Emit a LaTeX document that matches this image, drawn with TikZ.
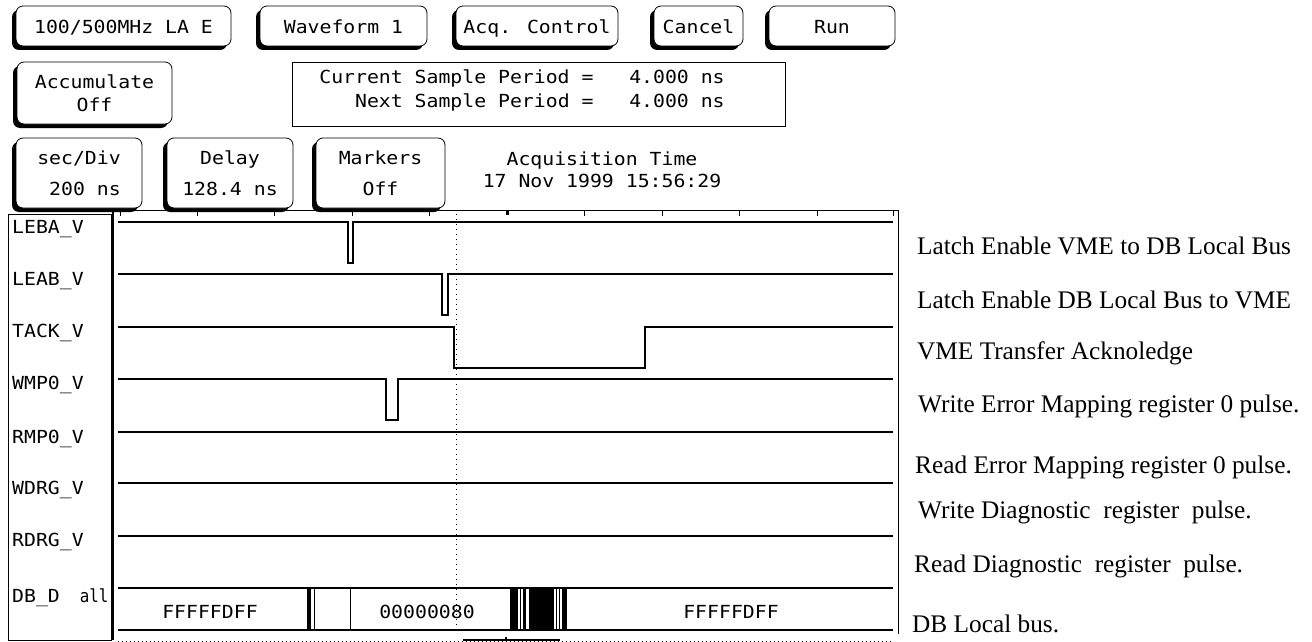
\documentclass[tikz,border=0pt]{standalone}
\usepackage{fontspec}
\setmainfont{Liberation Serif}
\newfontfamily\hpfont[FakeStretch=1.1]{DejaVu Sans Mono}
\usetikzlibrary{shadows}
\begin{document}
\begin{tikzpicture}[x=1pt,y=-1pt,
  hp/.style={font=\hpfont\fontsize{18}{22}\selectfont, inner sep=0pt},
  btn/.style={hp, draw, line width=0.8pt, rounded corners=7pt, fill=white, align=center,
    drop shadow={shadow xshift=-4pt, shadow yshift=-4pt, opacity=1, fill=black}},
  onebtn/.style={btn, text height=15pt, text depth=0pt, minimum height=40pt},
  frame/.style={draw, line width=0.8pt},
  note/.style={font=\fontsize{25.3}{30}\selectfont, anchor=base west, inner sep=0pt},
  trace/.style={line width=1.3pt},
  lowtrace/.style={line width=2pt},
  cursor/.style={dash pattern=on 1pt off 4pt, line width=1pt},
  sig/.style={hp, anchor=base west}
]
\useasboundingbox (0,0) rectangle (1312,642);
\fill[white] (0,0) rectangle (1312,642);

% top row buttons
\node[onebtn, minimum width=215pt] (la) at (123.5,26) {100/500MHz LA E};
\node[onebtn, minimum width=167pt] (wf) at (343.5,26) {Waveform 1};
\node[onebtn, minimum width=162pt] (acq) at (537,26) {Acq. Control};
\node[onebtn, minimum width=89pt] (cancel) at (698.5,26) {Cancel};
\node[onebtn, minimum width=126pt] (run) at (832,26) {Run};

% second row
\node[btn, minimum width=155pt, minimum height=62pt] (accum) at (94.5,93) {Accumulate\\[1pt]Off};
\node[frame, minimum width=493pt, minimum height=64pt, inner sep=0pt] (period) at (538.5,94) {};
\node[hp, align=right] (periodtxt) at (522,90) {Current Sample Period =\ \ \ 4.000 ns\\[2pt]Next Sample Period =\ \ \ 4.000 ns};

% third row
\node[btn, minimum width=126pt, minimum height=70pt] (secdiv) at (79,173) {sec/Div\\[9pt]\hspace*{12pt}200 ns};
\node[btn, minimum width=126pt, minimum height=70pt] (delay) at (230,173) {Delay\\[9pt]128.4 ns};
\node[btn, minimum width=129pt, minimum height=70pt] (markers) at (380.5,173) {Markers\\[9pt]Off};
\node[hp, align=center] (acqtime) at (602,170) {Acquisition Time\\17 Nov 1999 15:56:29};

% frames
\draw[line width=0.8pt] (8,214) rectangle (111,640);
\draw[line width=2pt] (112.5,210) -- (112.5,640);
\draw[line width=0.8pt] (112,210) -- (898,210) -- (898,634);
\foreach \x in {120,197,274,352,429,584,662,739,817,893}
  \draw[line width=0.8pt] (\x,210) -- (\x,216);
\draw[line width=3pt] (507,210) -- (507,215);

% signal names
\node[sig] (n1) at (12,233) {LEBA\_V};
\node[sig] (n2) at (12,285) {LEAB\_V};
\node[sig] (n3) at (12,337) {TACK\_V};
\node[sig] (n4) at (12,389) {WMP0\_V};
\node[sig] (n5) at (12,443) {RMP0\_V};
\node[sig] (n6) at (12,494) {WDRG\_V};
\node[sig] (n7) at (12,546) {RDRG\_V};
\node[sig] (n8) at (12,602) {DB\_D\hspace{20pt}\scalebox{0.8}[1]{all}};

% traces
\draw[trace] (118,222) -- (348,222) -- (348,263) -- (353,263) -- (353,222) -- (893,222);
\draw[lowtrace] (348,263) -- (353,263);
\draw[trace] (118,274) -- (442,274) -- (442,315) -- (448,315) -- (448,274) -- (893,274);
\draw[lowtrace] (442,315) -- (448,315);
\draw[trace] (118,327) -- (454,327) -- (454,368) -- (645,368) -- (645,327) -- (893,327);
\draw[lowtrace] (454,368) -- (645,368);
\draw[trace] (118,379) -- (386,379) -- (386,420) -- (398,420) -- (398,379) -- (893,379);
\draw[lowtrace] (386,420) -- (398,420);
\draw[trace] (118,432) -- (893,432);
\draw[trace] (118,483) -- (893,483);
\draw[trace] (118,536) -- (893,536);

% bus
\draw[trace] (118,588) -- (893,588);
\draw[line width=2.5pt] (118,630) -- (893,630);
\fill (307,588) rectangle (311,630);
\draw[line width=0.8pt] (314,588) -- (314,630);
\draw[line width=0.8pt] (350,588) -- (350,630);
\fill (510,588) rectangle (567,630);
\fill[white] (518,589) rectangle (519.6,629);
\fill[white] (521,589) rectangle (522.8,629);
\fill[white] (526,589) rectangle (529,629);
\fill[white] (554,589) rectangle (555.5,629);
\fill[white] (557,589) rectangle (558.5,629);
\fill[white] (560,589) rectangle (562,629);
\node[hp] (bus1) at (210,612) {FFFFFDFF};
\node[hp] (bus2) at (427,612) {00000080};
\node[hp] (bus3) at (731,612) {FFFFFDFF};

% cursor
\draw[cursor] (456,214) -- (456,630);

% bottom scroll line
\draw[dash pattern=on 1pt off 3pt, line width=1pt] (118,641) -- (893,641);
\draw[line width=1.6pt] (463,640) -- (560,640);
\draw[line width=1.2pt] (506,637) -- (506,640);

% annotations
\node[note] (a1) at (917,254) {Latch Enable VME to DB Local Bus};
\node[note] (a2) at (917,308) {Latch Enable DB Local Bus to VME};
\node[note] (a3) at (917,359) {VME Transfer Acknoledge};
\node[note] (a4) at (918,412) {Write Error Mapping register 0 pulse.};
\node[note] (a5) at (915,473) {Read Error Mapping register 0 pulse.};
\node[note] (a6) at (918,518) {Write Diagnostic\ \ register\ \ pulse.};
\node[note] (a7) at (914,572) {Read Diagnostic\ \ register\ \ pulse.};
\node[note] (a8) at (912,632) {DB Local bus.};
\end{tikzpicture}
\end{document}
